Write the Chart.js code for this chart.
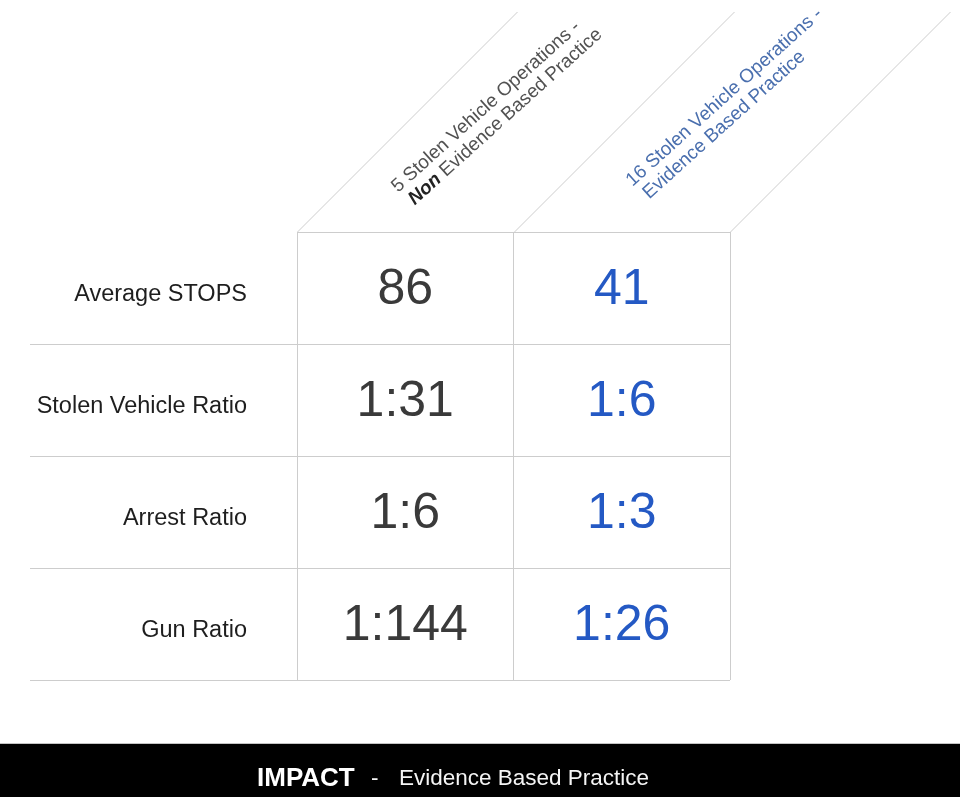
<!DOCTYPE html>
<html>
<head>
<meta charset="utf-8">
<script src="https://cdn.jsdelivr.net/npm/chart.js@4.4.1/dist/chart.umd.min.js"></script>
<style>
  html, body { margin: 0; padding: 0; background: #ffffff; }
  #wrap { position: relative; width: 960px; height: 797px; }
</style>
</head>
<body>
<div id="wrap"><canvas id="c"></canvas></div>
<script>
// ---------------- data ----------------
const rowLabels = ['Average STOPS', 'Stolen Vehicle Ratio', 'Arrest Ratio', 'Gun Ratio'];
const columnHeaders = [
  ['5 Stolen Vehicle Operations -', 'Non Evidence Based Practice'],
  ['16 Stolen Vehicle Operations -', 'Evidence Based Practice']
];
const nonEvidenceValues = ['86', '1:31', '1:6', '1:144'];
const evidenceValues = ['41', '1:6', '1:3', '1:26'];
const footerTitle = 'IMPACT';
const footerSeparator = '-';
const footerSubtitle = 'Evidence Based Practice';

// ---------------- styles ----------------
const FONT = "'Liberation Sans', Arial, Helvetica, sans-serif";
const GRID = '#cdcdcd';
const HEADER_ANGLE = 42 * Math.PI / 180;
const columnStyles = [
  { valueColor: '#3a3a3a', headerColor: '#525252', emphasisColor: '#222222', emphasisLine: 1, emphasisWords: 1, anchor: { dx: 101, dy: -39 } },
  { valueColor: '#2459c4', headerColor: '#4a6fae', emphasisColor: '#4a6fae', emphasisLine: -1, emphasisWords: 0, anchor: { dx: 119, dy: -45 } }
];

const columnKeys = columnHeaders.map(h => h.join(' '));
const columnValues = [nonEvidenceValues, evidenceValues];

const datasets = columnValues.map((vals, c) => ({
  label: columnKeys[c],
  data: vals.map((v, r) => ({ x: columnKeys[c], y: rowLabels[r], text: v })),
  pointRadius: 0,
  pointHoverRadius: 0,
  showLine: false
}));

// values drawn at the positions the library computed for each point
const cellTextPlugin = {
  id: 'cellText',
  afterDatasetsDraw(chart) {
    const ctx = chart.ctx;
    chart.data.datasets.forEach((ds, c) => {
      const meta = chart.getDatasetMeta(c);
      meta.data.forEach((pt, r) => {
        ctx.save();
        ctx.font = `50px ${FONT}`;
        ctx.fillStyle = columnStyles[c].valueColor;
        ctx.textAlign = 'center';
        ctx.textBaseline = 'alphabetic';
        ctx.fillText(ds.data[r].text, pt.x, pt.y + 16);
        ctx.restore();
      });
    });
  }
};

// slanted header band + header text + footer
const decorPlugin = {
  id: 'decor',
  afterDraw(chart) {
    const ctx = chart.ctx;
    const xs = chart.scales.x;
    const area = chart.chartArea;
    const n = xs.getLabels().length;
    const bounds = [];
    for (let i = 0; i <= n; i++) bounds.push(xs.getPixelForValue(i - 0.5));

    // diagonals
    const L = area.top - 12;
    ctx.save();
    ctx.strokeStyle = GRID;
    ctx.lineWidth = 1;
    bounds.forEach(b => {
      ctx.beginPath();
      ctx.moveTo(Math.round(b) + 0.5, area.top);
      ctx.lineTo(Math.round(b) + 0.5 + L, area.top - L);
      ctx.stroke();
    });
    ctx.restore();

    // headers
    columnHeaders.forEach((lines, c) => {
      const st = columnStyles[c];
      ctx.save();
      ctx.translate(bounds[c] + st.anchor.dx, area.top + st.anchor.dy);
      ctx.rotate(-HEADER_ANGLE);
      ctx.textAlign = 'left';
      ctx.textBaseline = 'alphabetic';
      lines.forEach((line, li) => {
        const ox = li * 4, oy = li * 20.5;
        if (li === st.emphasisLine && st.emphasisWords > 0) {
          const words = line.split(' ');
          const em = words.slice(0, st.emphasisWords).join(' ');
          const rest = ' ' + words.slice(st.emphasisWords).join(' ');
          ctx.font = `italic bold 19px ${FONT}`;
          ctx.fillStyle = st.emphasisColor;
          ctx.fillText(em, ox, oy);
          const w = ctx.measureText(em).width;
          ctx.font = `19px ${FONT}`;
          ctx.fillStyle = st.headerColor;
          ctx.fillText(rest, ox + w, oy);
        } else {
          ctx.font = `19px ${FONT}`;
          ctx.fillStyle = st.headerColor;
          ctx.fillText(line, ox, oy);
        }
      });
      ctx.restore();
    });

    // footer band
    const W = chart.width, H = chart.height;
    ctx.save();
    ctx.fillStyle = '#c4c4c4';
    ctx.fillRect(0, 743, W, 1);
    ctx.fillStyle = '#000000';
    ctx.fillRect(0, 744, W, H - 744);
    ctx.textBaseline = 'alphabetic';
    ctx.textAlign = 'left';
    ctx.font = `bold 26px ${FONT}`;
    ctx.fillStyle = '#ffffff';
    ctx.fillText(footerTitle, 257, 786);
    ctx.font = `22.5px ${FONT}`;
    ctx.fillStyle = '#f4f4f4';
    ctx.fillText(footerSeparator, 371, 785);
    ctx.fillText(footerSubtitle, 399, 785);
    ctx.restore();
  }
};

new Chart(document.getElementById('c'), {
  type: 'scatter',
  data: { datasets },
  options: {
    responsive: true,
    maintainAspectRatio: false,
    animation: false,
    events: [],
    layout: { padding: { left: 30, right: 230, top: 232, bottom: 117 } },
    plugins: { legend: { display: false }, tooltip: { enabled: false }, title: { display: false } },
    scales: {
      x: {
        type: 'category',
        labels: columnKeys,
        position: 'bottom',
        offset: true,
        grid: { offset: true, color: GRID, lineWidth: 1, drawTicks: false },
        border: { display: false },
        ticks: { display: false },
        afterFit(scale) { scale.height = 0; }
      },
      y: {
        type: 'category',
        labels: rowLabels,
        position: 'left',
        offset: true,
        grid: {
          offset: true,
          color: GRID,
          lineWidth: 1,
          drawTicks: true,
          tickLength: 267,
          tickColor: (ctx) => (ctx.index === 0 ? 'rgba(0,0,0,0)' : GRID)
        },
        border: { display: false },
        ticks: {
          font: { family: FONT, size: 23.5 },
          color: '#1e1e1e',
          padding: -217,
          labelOffset: 7,
          autoSkip: false
        },
        afterFit(scale) { scale.width = 267; }
      }
    }
  },
  plugins: [cellTextPlugin, decorPlugin]
});
</script>
</body>
</html>
